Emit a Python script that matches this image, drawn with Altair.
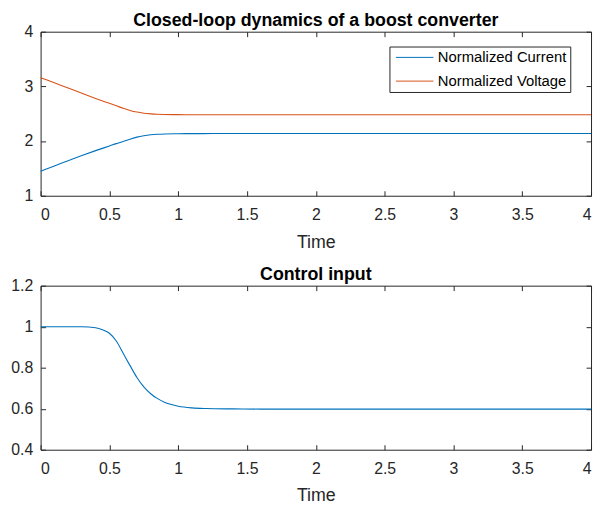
import altair as alt
import pandas as pd

# ---- data ----
t_top = [0, 0.1, 0.2, 0.3, 0.4, 0.5, 0.55, 0.6, 0.65, 0.7, 0.75, 0.8, 0.85, 0.9, 1.0, 1.1, 1.25, 1.5,
         2.0, 2.5, 3.0, 3.5, 4.0]
current = [1.45, 1.545, 1.64, 1.735, 1.825, 1.91, 1.953, 1.993, 2.035, 2.072, 2.097, 2.114, 2.124,
           2.13, 2.134, 2.136, 2.137, 2.137, 2.137, 2.137, 2.137, 2.137, 2.137]
voltage = [3.16, 3.065, 2.97, 2.875, 2.78, 2.69, 2.645, 2.6, 2.56, 2.53, 2.51, 2.498, 2.491, 2.487,
           2.483, 2.481, 2.48, 2.48, 2.48, 2.48, 2.48, 2.48, 2.48]

t_ctrl = [0, 0.3, 0.4, 0.45, 0.5, 0.55, 0.6, 0.65, 0.7, 0.75, 0.8, 0.85, 0.9, 0.95, 1.0, 1.1, 1.2,
          1.4, 1.6, 2.0, 3.0, 4.0]
control = [1.0, 1.0, 0.995, 0.985, 0.968, 0.93, 0.87, 0.81, 0.752, 0.706, 0.673, 0.649, 0.632, 0.62,
           0.612, 0.604, 0.601, 0.599, 0.598, 0.598, 0.598, 0.598]

x_ticks = [0, 0.5, 1, 1.5, 2, 2.5, 3, 3.5, 4]
y_ticks_top = [1, 2, 3, 4]
y_ticks_bot = [0.4, 0.6, 0.8, 1.0, 1.2]
series_names = ["Normalized Current", "Normalized Voltage"]
series_colors = ["#0072BD", "#D95319"]

FONT = "Liberation Sans"
AX = "#262626"
W, H1, H2 = 557, 166, 166

n = len(t_top)
df_top = pd.DataFrame({
    "t": t_top + t_top,
    "value": current + voltage,
    "series": [series_names[0]] * n + [series_names[1]] * n,
})
df_bot = pd.DataFrame({"t": t_ctrl, "value": control})

common_axis = dict(domain=False, grid=False, offset=-5, tickSize=5, tickColor=AX, tickWidth=1,
                   labelFont=FONT, labelFontSize=16, labelColor=AX,
                   titleFont=FONT, titleFontSize=18, titleFontWeight="normal", titleColor=AX)


def x_bottom(title_pad):
    return alt.Axis(orient="bottom", values=x_ticks, format="~g", labelPadding=11, title="Time",
                    titlePadding=title_pad, **common_axis)


def x_top():
    return alt.Axis(orient="top", values=x_ticks, labels=False, title=None, **common_axis)


def y_left(ticks):
    return alt.Axis(orient="left", values=ticks, format="~g", labelPadding=8, title=None, **common_axis)


def y_right(ticks):
    return alt.Axis(orient="right", values=ticks, labels=False, title=None, **common_axis)


def panel(df, ydom, yticks, height, title, title_pad, color_enc=None):
    xs = alt.Scale(domain=[0, 4], nice=False, zero=False)
    ys = alt.Scale(domain=ydom, nice=False, zero=False)
    enc = dict(
        x=alt.X("t:Q", scale=xs, axis=x_bottom(title_pad)),
        y=alt.Y("value:Q", scale=ys, axis=y_left(yticks)),
    )
    if color_enc is not None:
        enc["color"] = color_enc
    lines = alt.Chart(df).mark_line(strokeWidth=1.1, interpolate="monotone",
                                    color=series_colors[0]).encode(**enc)
    mirror = alt.Chart(df).mark_point(opacity=0, size=1).encode(
        x=alt.X("t:Q", scale=xs, axis=x_top()),
        y=alt.Y("value:Q", scale=ys, axis=y_right(yticks)),
    )
    return alt.layer(lines, mirror).resolve_axis(x="independent", y="independent").properties(
        width=W, height=height,
        title=alt.TitleParams(title, font=FONT, fontSize=18, fontWeight="bold", color="black",
                              anchor="middle", frame="group", offset=-6),
    )


legend = alt.Legend(
    title=None, orient="none", legendX=353, legendY=15,
    symbolType="M-0.6,0H4.47", symbolSize=225, symbolStrokeWidth=1, symbolFillColor="transparent",
    labelFont=FONT, labelFontSize=15, labelColor="black", labelOffset=30,
    strokeColor=AX, fillColor="white", padding=3, rowPadding=8,
)
color_enc = alt.Color("series:N", scale=alt.Scale(domain=series_names, range=series_colors),
                      legend=legend)

top = panel(df_top, [1, 4], y_ticks_top, H1, "Closed-loop dynamics of a boost converter", 11, color_enc)
bot = panel(df_bot, [0.4, 1.2], y_ticks_bot, H2, "Control input", 10)

chart = alt.vconcat(top, bot, spacing=91, bounds="flush").properties(
    padding={"left": 2, "top": 0, "right": 0, "bottom": 0},
    background="white",
).configure_view(stroke=AX, strokeWidth=1)

chart.save("out.html", embed_options={"renderer": "svg", "actions": False})
